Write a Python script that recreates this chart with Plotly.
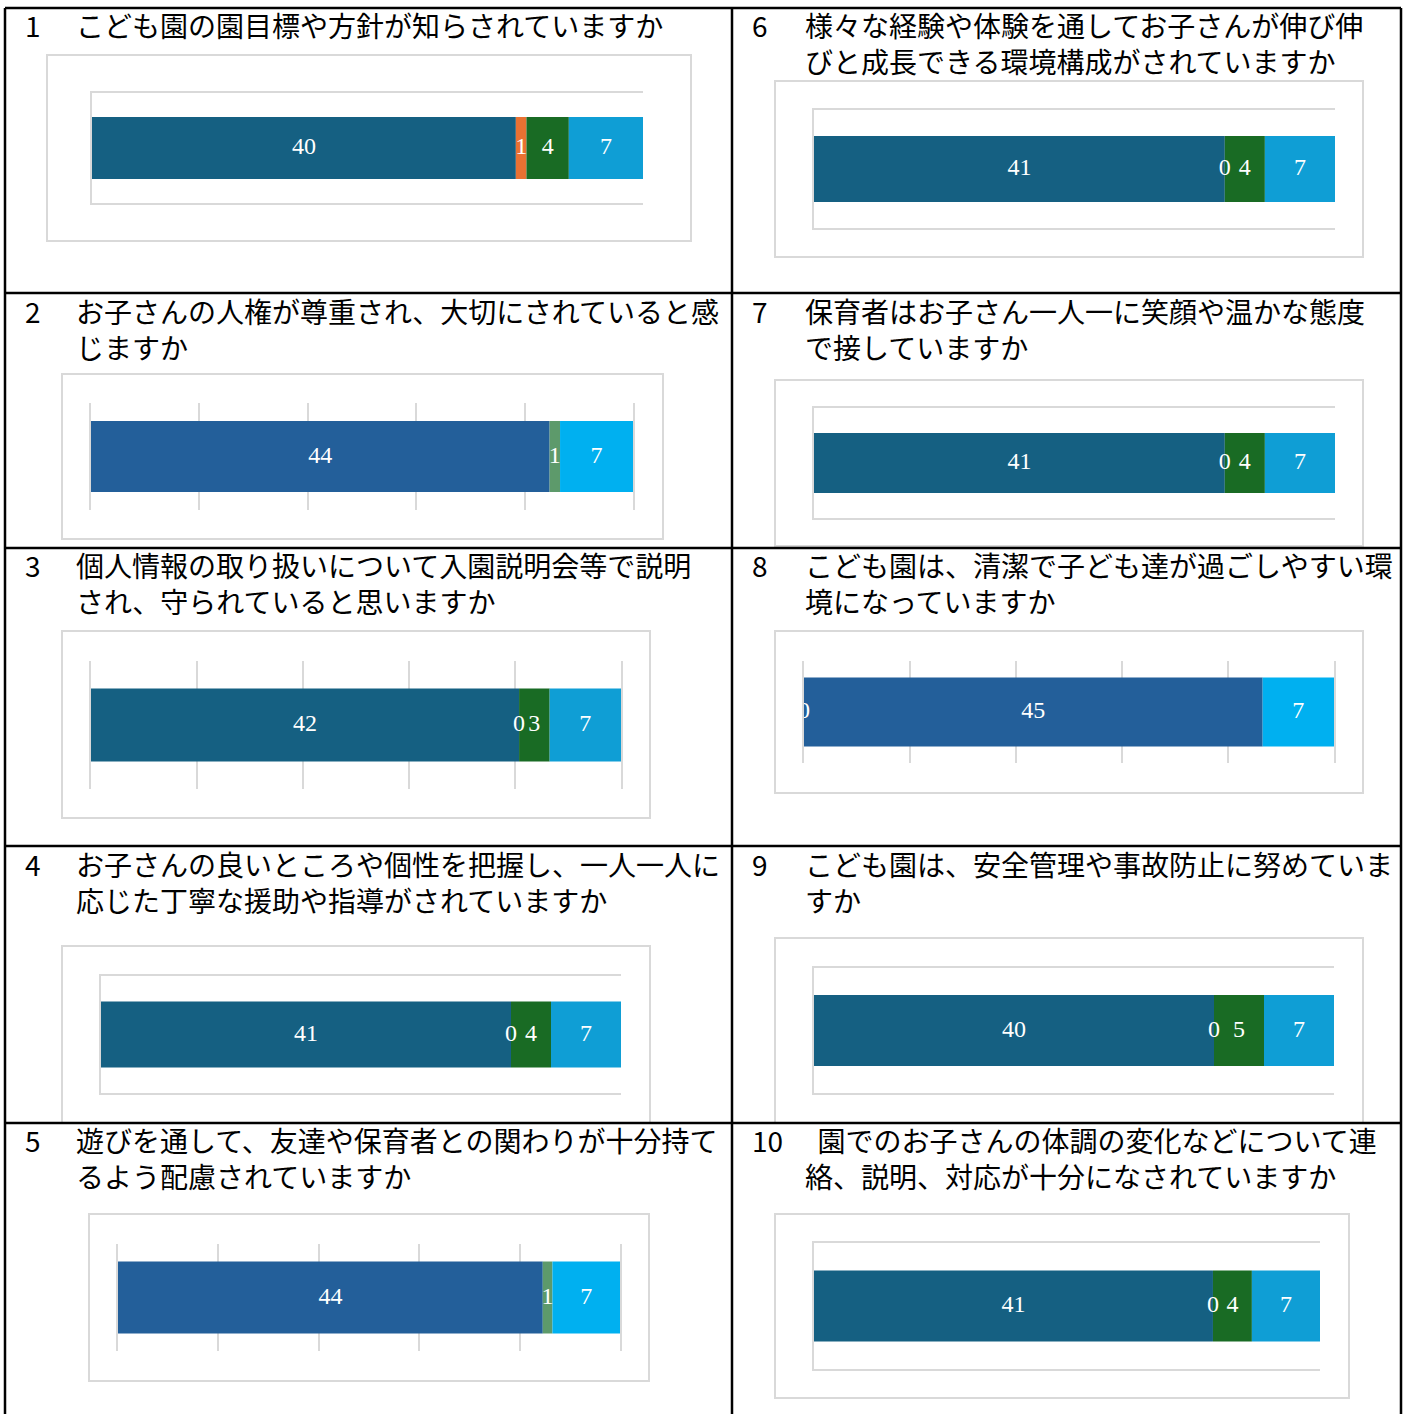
import plotly.graph_objects as go

# ---------------- data ----------------
question_numbers = ["1", "2", "3", "4", "5", "6", "7", "8", "9", "10"]
title_line1 = [
    "こども園の園目標や方針が知らされていますか",
    "お子さんの人権が尊重され、大切にされていると感",
    "個人情報の取り扱いについて入園説明会等で説明",
    "お子さんの良いところや個性を把握し、一人一人に",
    "遊びを通して、友達や保育者との関わりが十分持て",
    "様々な経験や体験を通してお子さんが伸び伸",
    "保育者はお子さん一人一に笑顔や温かな態度",
    "こども園は、清潔で子ども達が過ごしやすい環",
    "こども園は、安全管理や事故防止に努めていま",
    "園でのお子さんの体調の変化などについて連",
]
title_line2 = [
    "",
    "じますか",
    "され、守られていると思いますか",
    "応じた丁寧な援助や指導がされていますか",
    "るよう配慮されていますか",
    "びと成長できる環境構成がされていますか",
    "で接していますか",
    "境になっていますか",
    "すか",
    "絡、説明、対応が十分になされていますか",
]
q1_values = [40, 1, 4, 7]
q2_values = [44, 1, 7]
q3_values = [42, 0, 3, 7]
q4_values = [41, 0, 4, 7]
q5_values = [44, 1, 7]
q6_values = [41, 0, 4, 7]
q7_values = [41, 0, 4, 7]
q8_values = [0, 45, 7]
q9_values = [40, 0, 5, 7]
q10_values = [41, 0, 4, 7]
all_values = [q1_values, q2_values, q3_values, q4_values, q5_values,
              q6_values, q7_values, q8_values, q9_values, q10_values]

# ---------------- styles ----------------
W, H = 1407, 1414
PAL_A = ["#156082", "#E97132", "#196B24", "#0F9ED5"]
PAL_B3 = ["#235F9A", "#5D9A6B", "#00B0F0"]
PAL_B8 = ["#235F9A", "#235F9A", "#00B0F0"]
palettes = [PAL_A, PAL_B3, PAL_A, PAL_A, PAL_B3, PAL_A, PAL_A, PAL_B8, PAL_A, PAL_A]
GRID = "#D9D9D9"
TITLE_FONT = "Noto Sans CJK JP"
LABEL_FONT = "Liberation Serif"
TITLE_SIZE = 28

# panel geometry in pixels: style, box(x0,x1,y0,y1), plot(x0,x1,y0,y1), bar(y0,y1),
# number x, text x, line-1 lead spaces, line1 y
geo = [
    ("A", (47, 691, 55, 241), (92, 643, 93, 203), (117, 179), 24, 75, 0, 25),
    ("B", (62, 663, 374, 539), (91, 633, 403, 510), (421, 492), 24, 75, 0, 311),
    ("B", (62, 650, 631, 818), (91, 621, 661, 789), (689, 762), 24, 75, 0, 565),
    ("A", (62, 650, 946, 1123), (101, 621, 976, 1093), (1001, 1067), 24, 75, 0, 864),
    ("B", (89, 649, 1214, 1381), (118, 620, 1244, 1351), (1262, 1334), 24, 75, 0, 1140),
    ("A", (775, 1363, 81, 257), (814, 1335, 110, 228), (136, 202), 751, 804, 0, 25),
    ("A", (775, 1363, 380, 546), (814, 1335, 408, 518), (433, 493), 751, 804, 0, 311),
    ("B", (775, 1363, 631, 793), (804, 1334, 661, 763), (678, 747), 751, 804, 0, 565),
    ("A", (775, 1363, 938, 1123), (814, 1334, 968, 1093), (995, 1066), 751, 804, 0, 864),
    ("A", (775, 1349, 1214, 1398), (814, 1320, 1243, 1369), (1271, 1342), 751, 804, 2, 1140),
]
LINE_GAP = 36


def px(x):
    return x / W


def py(y):
    return 1 - y / H


fig = go.Figure()
shapes = []
annotations = []
layout_axes = {}

for i, (vals, pal, g) in enumerate(zip(all_values, palettes, geo)):
    k = i + 1
    style, box, plot, bar, nx, tx, lead, ty = g
    xa = "x" if k == 1 else f"x{k}"
    ya = "y" if k == 1 else f"y{k}"
    total = sum(vals)
    wfrac = (bar[1] - bar[0]) / (plot[3] - plot[2])

    start = 0
    mids = []
    for v, c in zip(vals, pal):
        fig.add_trace(go.Bar(x=[v], y=[0], base=[start], orientation="h", width=[wfrac],
                             marker=dict(color=c, line=dict(width=0)),
                             xaxis=xa, yaxis=ya, showlegend=False, hoverinfo="skip"))
        mids.append(start + v / 2)
        start += v
    fig.add_trace(go.Scatter(x=mids, y=[0] * len(vals), mode="text",
                             text=[str(v) for v in vals], textposition="middle center",
                             textfont=dict(family=LABEL_FONT, size=24, color="#FFFFFF"),
                             cliponaxis=True, xaxis=xa, yaxis=ya,
                             showlegend=False, hoverinfo="skip"))

    xdict = dict(domain=[px(plot[0]), px(plot[1])], range=[0, total], fixedrange=True,
                 showticklabels=False, ticks="", zeroline=False, anchor=ya)
    ydict = dict(domain=[py(plot[3]), py(plot[2])], range=[-0.5, 0.5], fixedrange=True,
                 showticklabels=False, ticks="", zeroline=False, showgrid=False, anchor=xa)
    if style == "A":
        xdict.update(showgrid=False, showline=True, mirror=True, linecolor=GRID, linewidth=2)
        ydict.update(showline=True, linecolor=GRID, linewidth=2)
    else:
        xdict.update(showgrid=True, gridcolor=GRID, gridwidth=2, showline=False,
                     tickmode="array", tickvals=[total * j / 5 for j in range(6)])
        ydict.update(showline=True, mirror=True, linecolor=GRID, linewidth=2,
                     layer="below traces")
    layout_axes["xaxis" if k == 1 else f"xaxis{k}"] = xdict
    layout_axes["yaxis" if k == 1 else f"yaxis{k}"] = ydict

    # chart box
    shapes.append(dict(type="rect", xref="paper", yref="paper",
                       x0=px(box[0]), x1=px(box[1]), y0=py(box[3]), y1=py(box[2]),
                       line=dict(color=GRID, width=2), fillcolor="rgba(0,0,0,0)", layer="below"))

    # titles
    tf = dict(family=TITLE_FONT, size=TITLE_SIZE, color="#000000")
    annotations.append(dict(text=question_numbers[i], x=px(nx), y=py(ty), xref="paper", yref="paper",
                            xanchor="left", yanchor="middle", showarrow=False, font=tf, borderpad=0))
    line1 = "\u00a0" * lead + title_line1[i]
    if title_line2[i]:
        txt = line1 + "<br>" + title_line2[i]
        cy = ty + LINE_GAP / 2
    else:
        txt = line1
        cy = ty
    annotations.append(dict(text=txt, x=px(tx), y=py(cy), xref="paper", yref="paper",
                            xanchor="left", yanchor="middle", align="left", showarrow=False,
                            font=tf, borderpad=0))

# table lines
TL = dict(color="#000000", width=2.5)
for x in (5, 732, 1401):
    shapes.append(dict(type="line", xref="paper", yref="paper", x0=px(x), x1=px(x),
                       y0=py(8), y1=py(1414), line=TL))
for y in (8, 293, 548, 846, 1123):
    shapes.append(dict(type="line", xref="paper", yref="paper", x0=px(5), x1=px(1401),
                       y0=py(y), y1=py(y), line=TL))

fig.update_layout(width=W, height=H, margin=dict(l=0, r=0, t=0, b=0),
                  paper_bgcolor="#FFFFFF", plot_bgcolor="rgba(0,0,0,0)",
                  barmode="overlay", shapes=shapes, annotations=annotations,
                  showlegend=False, **layout_axes)

fig.write_html("out.html", config={"displayModeBar": False},
               post_script="document.body.style.margin='0px';")
